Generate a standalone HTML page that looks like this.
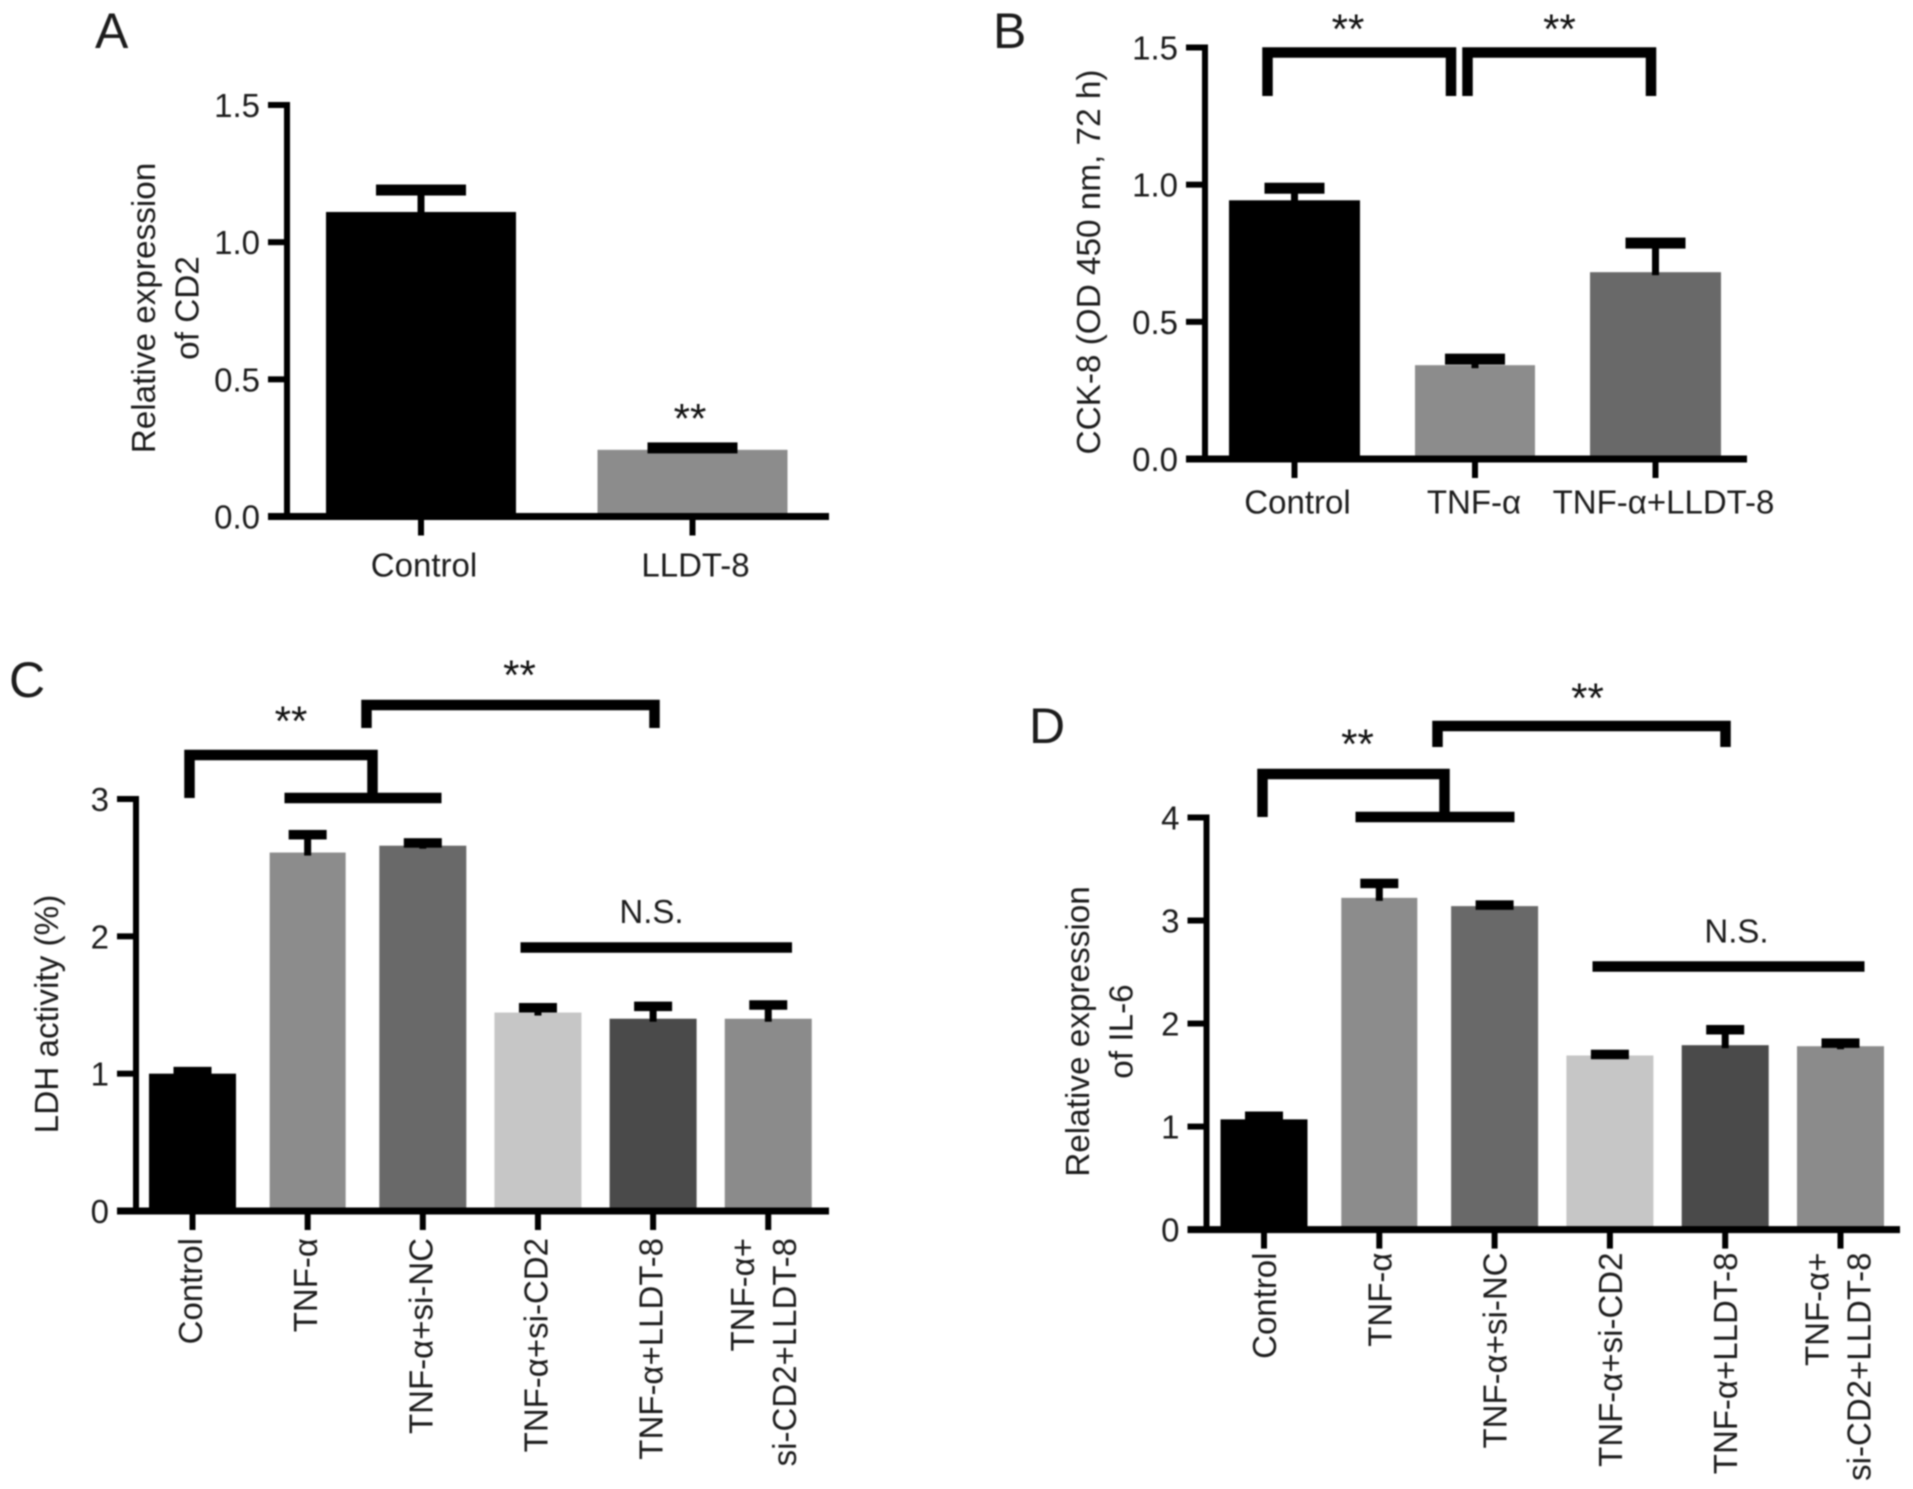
<!DOCTYPE html>
<html lang="en">
<head>
<meta charset="utf-8">
<title>CD2 and LLDT-8 bar chart panels</title>
<style>
html,body{margin:0;padding:0;background:#fff;}
#figure{display:block;width:1913px;height:1489px;filter:blur(0.7px);}
text{font-family:"Liberation Sans",sans-serif;fill:#1c1c1c;}
.anno{font-size:42px;text-anchor:middle;fill:#111;}
.ns{font-size:33px;text-anchor:middle;}
.letter{font-size:50px;}
.bk{fill:none;stroke:#000;stroke-width:10.5;stroke-linejoin:miter;}
</style>
</head>
<body>
<svg id="figure" xmlns="http://www.w3.org/2000/svg" width="1913" height="1489" viewBox="0 0 1913 1489">
  <rect width="1913" height="1489" fill="#fff"/>
  <g id="charts"></g>

  <text class="letter" x="95" y="48">A</text>
  <text class="letter" x="993" y="48">B</text>
  <text class="letter" x="9" y="697">C</text>
  <text class="letter" x="1029" y="743">D</text>

  <text class="anno" x="690" y="433">**</text>

  <path class="bk" d="M1267.5 96V52.5H1451V96"/>
  <path class="bk" d="M1467.5 96V52.5H1651V96"/>
  <text class="anno" x="1348" y="43.5">**</text>
  <text class="anno" x="1559.5" y="43.5">**</text>

  <path class="bk" d="M189.5 798V755H372.5V798"/>
  <path class="bk" d="M284.5 798H441.5"/>
  <path class="bk" d="M366.5 728V705H654.5V728"/>
  <text class="anno" x="291" y="735.5">**</text>
  <text class="anno" x="519.5" y="689.5">**</text>
  <text class="ns" x="651.5" y="923">N.S.</text>
  <path class="bk" d="M520.5 947.5H792"/>

  <path class="bk" d="M1262.5 817V774H1444.5V817"/>
  <path class="bk" d="M1355.5 817H1514.5"/>
  <path class="bk" d="M1437.5 747V726H1725.5V747"/>
  <text class="anno" x="1357.5" y="758.5">**</text>
  <text class="anno" x="1587.5" y="712.5">**</text>
  <text class="ns" x="1736.5" y="942.5">N.S.</text>
  <path class="bk" d="M1592.5 966.5H1864.5"/>
</svg>
<script>
// Panel A data
const aCategories = ['Control', 'LLDT-8'];
const aValues = [1.11, 0.243];
const aErrors = [0.08, 0.007];
const aTicks = ['0.0', '0.5', '1.0', '1.5'];
const aTitle = ['Relative expression', 'of CD2'];

// Panel B data
const bCategories = ['Control', 'TNF-α', 'TNF-α+LLDT-8'];
const bValues = [0.943, 0.342, 0.681];
const bErrors = [0.044, 0.022, 0.106];
const bTicks = ['0.0', '0.5', '1.0', '1.5'];
const bTitle = ['CCK-8 (OD 450 nm, 72 h)'];

// Panel C data
const cCategories = ['Control', 'TNF-α', 'TNF-α+si-NC', 'TNF-α+si-CD2', 'TNF-α+LLDT-8', 'TNF-α+\nsi-CD2+LLDT-8'];
const cValues = [1.0, 2.61, 2.66, 1.445, 1.40, 1.40];
const cErrors = [0.015, 0.13, 0.02, 0.035, 0.09, 0.10];
const cTicks = ['0', '1', '2', '3'];
const cTitle = ['LDH activity (%)'];

// Panel D data
const dCategories = ['Control', 'TNF-α', 'TNF-α+si-NC', 'TNF-α+si-CD2', 'TNF-α+LLDT-8', 'TNF-α+\nsi-CD2+LLDT-8'];
const dValues = [1.07, 3.22, 3.14, 1.69, 1.79, 1.78];
const dErrors = [0.03, 0.14, 0.01, 0.01, 0.15, 0.03];
const dTicks = ['0', '1', '2', '3', '4'];
const dTitle = ['Relative expression', 'of IL-6'];

const SVG_NS = 'http://www.w3.org/2000/svg';
const root = document.getElementById('charts');

function shape(tag, parent, attrs) {
  const el = document.createElementNS(SVG_NS, tag);
  for (const k in attrs) el.setAttribute(k, attrs[k]);
  parent.appendChild(el);
  return el;
}

function drawPanel(p) {
  const group = shape('g', root, {});
  
  

  const maxTick = parseFloat(p.ticks[p.ticks.length - 1]);
  const yScale = v => p.y0 - (v / maxTick) * (p.y0 - p.yTop);
  const xScale = i => p.x0 + i * p.step;

  // bars
  p.values.forEach((v, i) => {
    const w = i === p.narrowIndex ? p.narrowWidth : p.barWidth;
    const bar = shape('rect', group, {
      x: xScale(i) - w / 2, y: yScale(v), width: w, height: p.y0 - yScale(v), fill: p.colors[i]
    });
    
    
  });

  // error bars
  p.values.forEach((v, i) => {
    const top = yScale(v + p.errors[i]);
    const stem = shape('rect', group, {
      x: xScale(i) - 3.5, y: top, width: 7, height: Math.max(0, yScale(v) - top + 3), fill: '#000'
    });
    
    
    const cap = shape('rect', group, {
      x: xScale(i) - p.capWidth / 2, y: top - p.capHeight / 2, width: p.capWidth, height: p.capHeight, fill: '#000'
    });
    
    
  });

  // axes
  const yAxis = shape('rect', group, {
    x: p.xAxisLeft - 3, y: p.yTop - 3, width: 6, height: p.y0 - p.yTop + 6, fill: '#000'
  });
  
  
  const xAxis = shape('rect', group, {
    x: p.xAxisLeft - 19, y: p.y0 - 3.5, width: p.xAxisRight - p.xAxisLeft + 19, height: 7, fill: '#000'
  });
  
  

  // y ticks
  p.ticks.forEach(t => {
    const yy = yScale(parseFloat(t));
    const tick = shape('rect', group, {
      x: p.xAxisLeft - 19, y: yy - 3, width: 19, height: 6, fill: '#000'
    });
    
    
    const label = shape('text', group, {
      x: p.xAxisLeft - 27, y: yy + 12, 'font-size': 33, 'text-anchor': 'end'
    });
    label.textContent = t;
    
    
  });

  // x ticks and category labels
  p.categories.forEach((c, i) => {
    const cx = xScale(i);
    const tick = shape('rect', group, { x: cx - 3, y: p.y0, width: 6, height: 19, fill: '#000' });
    
    
    const lines = c.split('\n');
    lines.forEach((line, j) => {
      let label;
      if (p.rotated) {
        const lx = lines.length > 1 ? cx - 3 + p.labelNudge + (j - 0.5) * 42 + 12 : cx + p.labelNudge + 12;
        label = shape('text', group, {
          x: lx, y: p.labelY, 'font-size': 33, 'text-anchor': 'end',
          transform: 'rotate(-90 ' + lx + ' ' + p.labelY + ')'
        });
      } else {
        label = shape('text', group, {
          x: cx + p.labelOffsets[i], y: p.labelY, 'font-size': 33, 'text-anchor': 'middle'
        });
      }
      label.textContent = line;
      
      
    });
  });

  // y title
  p.title.forEach((line, j) => {
    const tx = p.titleX + j * 43.5;
    const title = shape('text', group, {
      x: tx, y: p.titleY, 'font-size': 33.3, 'text-anchor': 'middle',
      transform: 'rotate(-90 ' + tx + ' ' + p.titleY + ')'
    });
    title.textContent = line;
    
    
  });
}

drawPanel({
  id: 'a', categories: aCategories, values: aValues, errors: aErrors, ticks: aTicks, title: aTitle,
  y0: 516.5, yTop: 105, x0: 421, step: 271.5, barWidth: 190, capWidth: 90, capHeight: 11,
  colors: ['#000000', '#8c8c8c'],
  xAxisLeft: 287, xAxisRight: 829, rotated: false, labelY: 576.5, labelOffsets: [3, 3],
  titleX: 155, titleY: 308
});
drawPanel({
  id: 'b', categories: bCategories, values: bValues, errors: bErrors, ticks: bTicks, title: bTitle,
  y0: 459, yTop: 47.5, x0: 1294.5, step: 180.5, barWidth: 131, narrowIndex: 1, narrowWidth: 120, capWidth: 60, capHeight: 11,
  colors: ['#000000', '#8c8c8c', '#696969'],
  xAxisLeft: 1205, xAxisRight: 1747, rotated: false, labelY: 513.5, labelOffsets: [3, -1, 8],
  titleX: 1100, titleY: 262
});
drawPanel({
  id: 'c', categories: cCategories, values: cValues, errors: cErrors, ticks: cTicks, title: cTitle,
  y0: 1211, yTop: 799, x0: 192.5, step: 115.15, barWidth: 87, narrowIndex: 1, narrowWidth: 76, capWidth: 38, capHeight: 9.5,
  colors: ['#000000', '#8c8c8c', '#696969', '#c6c6c6', '#4a4a4a', '#8b8b8b'],
  xAxisLeft: 136, xAxisRight: 829, rotated: true, labelY: 1238, labelNudge: -2.5,
  titleX: 58, titleY: 1014
});
drawPanel({
  id: 'd', categories: dCategories, values: dValues, errors: dErrors, ticks: dTicks, title: dTitle,
  y0: 1229.6, yTop: 817.5, x0: 1264, step: 115.3, barWidth: 87, narrowIndex: 1, narrowWidth: 76, capWidth: 38, capHeight: 9.5,
  colors: ['#000000', '#8c8c8c', '#696969', '#c6c6c6', '#4a4a4a', '#8b8b8b'],
  xAxisLeft: 1206.5, xAxisRight: 1900, rotated: true, labelY: 1252.5, labelNudge: 0,
  titleX: 1089, titleY: 1031.5
});
</script>
</body>
</html>
